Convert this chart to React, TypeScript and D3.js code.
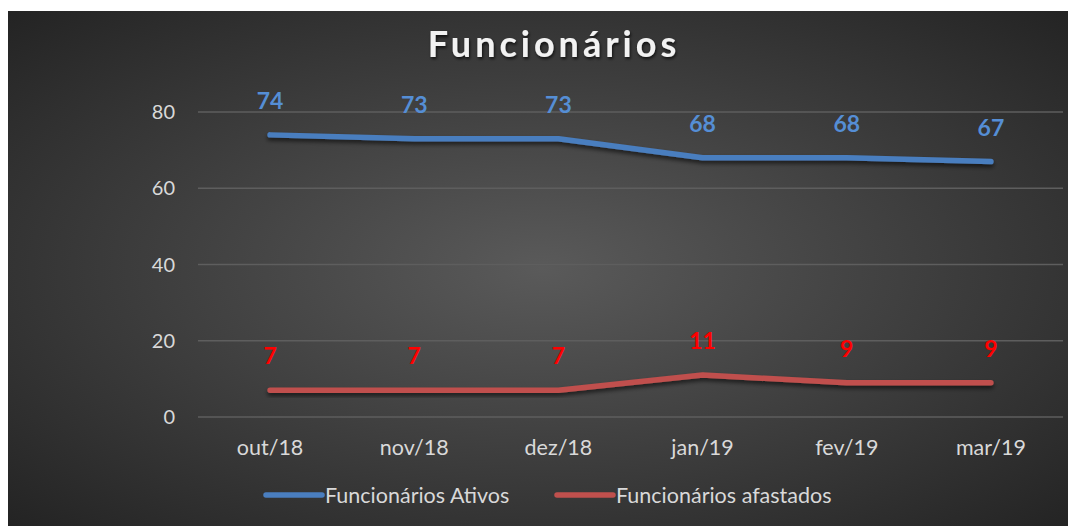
import React, { useEffect, useRef } from 'react';
import * as d3 from 'd3';

const months = ['out/18', 'nov/18', 'dez/18', 'jan/19', 'fev/19', 'mar/19'];
const ativos = [74, 73, 73, 68, 68, 67];
const afastados = [7, 7, 7, 11, 9, 9];
const yTicks = [0, 20, 40, 60, 80];

const FONT = 'Lato, "Open Sans", sans-serif';

function App() {
    const svgRef = useRef<SVGSVGElement>(null);

    useEffect(() => {
        const width = 1068;
        const height = 515;
        const margin = { top: 101, right: 13, bottom: 109, left: 190 };

        const svg = d3.select(svgRef.current);
        svg.selectAll('*').remove();
        svg.attr('width', width).attr('height', height);

        const defs = svg.append('defs');
        const grad = defs.append('radialGradient')
            .attr('id', 'bg')
            .attr('cx', '50%').attr('cy', '50%').attr('r', '75%');
        grad.append('stop').attr('offset', '0%').attr('stop-color', '#5a5a5a');
        grad.append('stop').attr('offset', '100%').attr('stop-color', '#202020');

        const shadow = defs.append('filter').attr('id', 'shadow')
            .attr('x', '-5%').attr('y', '-50%').attr('width', '110%').attr('height', '200%');
        shadow.append('feDropShadow')
            .attr('dx', 0).attr('dy', 3).attr('stdDeviation', 2)
            .attr('flood-color', '#000').attr('flood-opacity', 0.6);

        const tshadow = defs.append('filter').attr('id', 'tshadow');
        tshadow.append('feDropShadow')
            .attr('dx', 1).attr('dy', 2).attr('stdDeviation', 1.5)
            .attr('flood-color', '#000').attr('flood-opacity', 0.7);

        svg.append('rect')
            .attr('width', width).attr('height', height)
            .attr('fill', 'url(#bg)');

        const x = d3.scaleBand()
            .domain(months)
            .range([margin.left, width - margin.right]);
        const cx = (m: string) => (x(m) as number) + x.bandwidth() / 2;

        const y = d3.scaleLinear()
            .domain([0, 80])
            .range([height - margin.bottom, margin.top]);

        // gridlines
        svg.append('g')
            .selectAll('line')
            .data(yTicks)
            .enter()
            .append('line')
            .attr('x1', margin.left).attr('x2', width - margin.right)
            .attr('y1', d => y(d)).attr('y2', d => y(d))
            .attr('stroke', '#5e5e5e')
            .attr('stroke-width', 1.3);

        // y axis labels
        svg.append('g')
            .selectAll('text')
            .data(yTicks)
            .enter()
            .append('text')
            .attr('x', 167)
            .attr('y', d => y(d))
            .attr('dy', '0.35em')
            .attr('text-anchor', 'end')
            .attr('fill', '#d9d9d9')
            .style('font-family', FONT)
            .style('font-size', '20px')
            .text(d => d);

        // x axis labels
        svg.append('g')
            .selectAll('text')
            .data(months)
            .enter()
            .append('text')
            .attr('x', d => cx(d))
            .attr('y', 444)
            .attr('text-anchor', 'middle')
            .attr('fill', '#d9d9d9')
            .style('font-family', FONT)
            .style('font-size', '21.5px')
            .text(d => d);

        const series = [
            { name: 'Funcionários Ativos', values: ativos, color: '#4a7ebf', label: '#558ed5' },
            { name: 'Funcionários afastados', values: afastados, color: '#c0504d', label: '#ff0000' }
        ];

        const line = d3.line<number>()
            .x((d, i) => cx(months[i]))
            .y(d => y(d));

        series.forEach(s => {
            svg.append('path')
                .datum(s.values)
                .attr('d', line)
                .attr('fill', 'none')
                .attr('stroke', s.color)
                .attr('stroke-width', 5.5)
                .attr('stroke-linecap', 'round')
                .attr('stroke-linejoin', 'round')
                .attr('filter', 'url(#shadow)');

            svg.append('g')
                .selectAll('text')
                .data(s.values)
                .enter()
                .append('text')
                .attr('x', (d, i) => cx(months[i]))
                .attr('y', d => y(d) - 26)
                .attr('text-anchor', 'middle')
                .attr('fill', s.label)
                .style('font-family', FONT)
                .style('font-size', '23px')
                .style('font-weight', 'bold')
                .text(d => d);
        });

        // title
        svg.append('text')
            .attr('x', 546)
            .attr('y', 46)
            .attr('text-anchor', 'middle')
            .attr('fill', '#f2f2f2')
            .attr('filter', 'url(#tshadow)')
            .style('font-family', FONT)
            .style('font-size', '36px')
            .style('font-weight', 'bold')
            .style('letter-spacing', '4px')
            .text('Funcionários');

        // legend
        const legendX = [258, 549];
        series.forEach((s, i) => {
            const g = svg.append('g').attr('transform', `translate(${legendX[i]}, 484)`);
            g.append('line')
                .attr('x1', 0).attr('x2', 56)
                .attr('y1', 0).attr('y2', 0)
                .attr('stroke', s.color)
                .attr('stroke-width', 5.5)
                .attr('stroke-linecap', 'round');
            g.append('text')
                .attr('x', 59)
                .attr('y', 0)
                .attr('dy', '0.35em')
                .attr('fill', '#d9d9d9')
                .style('font-family', FONT)
                .style('font-size', '21.5px')
                .text(s.name);
        });
    }, []);

    return <svg ref={svgRef} style={{ display: 'block', marginTop: 3 }}></svg>;
}

export default App;
